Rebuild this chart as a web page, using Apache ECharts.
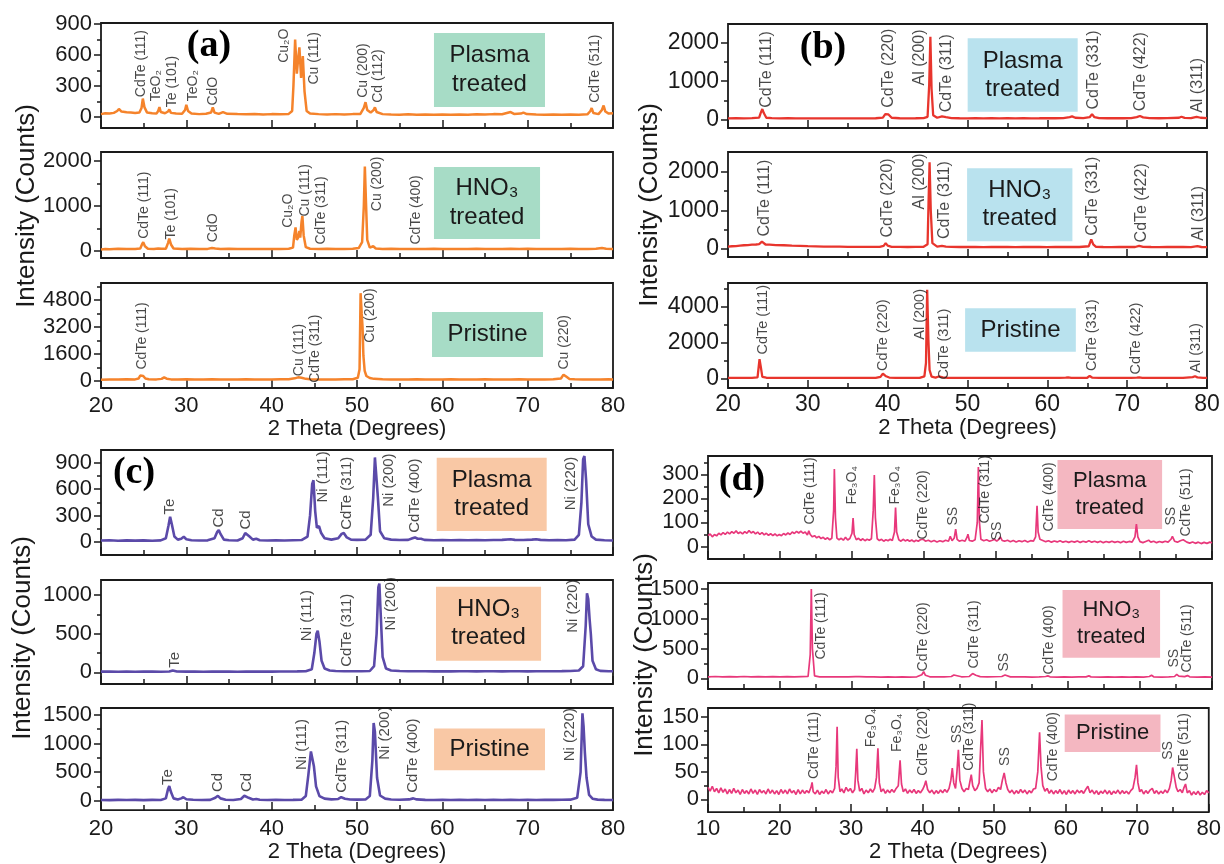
<!DOCTYPE html>
<html><head><meta charset="utf-8">
<script src="https://cdn.jsdelivr.net/npm/echarts@6/dist/echarts.min.js"></script>
<style>html,body{margin:0;padding:0;background:#fff}#c{width:1224px;height:864px}</style>
</head><body><div id="c"></div>
<script>
// ---------------- DATA (2θ in degrees, intensity in counts) ----------------
const a_plasma = [[20,30],[20.5,38],[21,35],[21.5,42],[21.9,60],[22.1,80],[22.4,55],[23,48],[23.5,45],[24,42],[24.5,45],[24.75,90],[24.9,180],[25.1,95],[25.4,45],[26,38],[26.5,35],[26.7,60],[26.85,97],[27.0,50],[27.5,38],[27.85,55],[28.0,75],[28.2,42],[28.8,35],[29.5,33],[29.85,70],[30.0,120],[30.2,60],[30.6,35],[31.5,30],[32.3,34],[32.9,45],[33.1,95],[33.3,45],[33.8,32],[34.3,50],[34.8,33],[36,30],[37,28],[38,32],[39,27],[40,30],[41,28],[42,32],[42.4,60],[42.55,300],[42.75,750],[42.95,420],[43.1,560],[43.25,675],[43.45,380],[43.65,590],[43.85,250],[44.1,60],[44.5,35],[45.5,30],[46.5,27],[47.5,30],[48.5,26],[49.5,30],[50.4,32],[50.8,90],[51.0,145],[51.2,70],[51.6,45],[51.95,70],[52.1,95],[52.3,50],[53,30],[54,27],[55,25],[56,28],[57,24],[58,27],[59,23],[60,26],[61,24],[62,27],[63,25],[64,28],[65,26],[66,30],[67,28],[68,50],[68.4,32],[69.2,35],[69.5,45],[69.9,30],[71,27],[72,25],[73,27],[74,24],[75,26],[76,25],[77,28],[77.35,60],[77.5,88],[77.7,40],[78.3,30],[78.7,70],[78.9,113],[79.1,55],[79.5,35],[80,38]];
const a_hno3 = [[20,40],[20.5,50],[21,45],[22,55],[23,48],[24,52],[24.6,60],[24.8,150],[24.95,200],[25.15,110],[25.5,55],[26.2,50],[26.7,60],[26.9,85],[27.1,55],[27.6,55],[27.85,180],[28.0,280],[28.2,150],[28.5,60],[29.5,50],[30.5,55],[31.5,48],[32.5,52],[33.0,70],[33.2,85],[33.4,60],[34,50],[35,55],[36,48],[37,52],[38,50],[39,47],[40,52],[41,50],[42,55],[42.5,80],[42.65,350],[42.8,530],[42.95,250],[43.1,300],[43.25,450],[43.35,300],[43.5,650],[43.6,780],[43.75,350],[44,90],[44.5,55],[45.5,50],[46.5,55],[47.5,48],[48.5,52],[49.5,55],[50.2,70],[50.6,200],[50.8,1000],[50.92,1880],[51.05,1100],[51.2,250],[51.5,80],[51.9,110],[52.2,60],[53,50],[54,55],[55,48],[56,52],[57,50],[58,47],[59,53],[60,50],[61,48],[62,52],[63,50],[64,55],[65,48],[66,52],[67,50],[68,53],[69,48],[70,55],[71,50],[72,47],[73,52],[74,50],[75,55],[76,50],[77,48],[78,55],[78.7,70],[78.9,85],[79.2,55],[80,50]];
const a_pristine = [[20,80],[21,100],[22,90],[23,110],[24,100],[24.4,150],[24.6,330],[24.75,420],[24.95,300],[25.2,150],[25.6,110],[26.5,100],[27.1,130],[27.4,220],[27.7,140],[28.2,100],[29,95],[30,110],[31,100],[32,95],[33,105],[34,100],[35,95],[36,100],[37,105],[38,100],[39,95],[40,100],[41,105],[42,110],[42.7,160],[43.1,220],[43.5,200],[44,130],[44.5,110],[45.5,100],[46.5,95],[47.5,100],[48.5,105],[49.5,110],[50.1,200],[50.3,700],[50.42,5200],[50.55,4000],[50.65,3200],[50.75,1500],[50.9,600],[51.1,300],[51.5,180],[52,130],[53,110],[54,100],[55,95],[56,100],[57,105],[58,100],[59,95],[60,100],[61,105],[62,100],[63,95],[64,100],[65,105],[66,100],[67,95],[68,100],[69,105],[70,100],[71,95],[72,100],[73,105],[73.9,150],[74.2,380],[74.35,420],[74.55,250],[74.9,120],[75.5,105],[76.5,100],[77.5,95],[78.5,100],[79.5,105],[80,100]];

const b_plasma = [[20,40],[21,45],[22,40],[23,45],[23.9,60],[24.1,180],[24.3,280],[24.5,170],[24.8,55],[25.5,45],[26.5,40],[27.5,42],[28.5,38],[29.5,40],[30.5,38],[31.5,40],[32.5,37],[33.5,40],[34.5,38],[35.5,40],[36.5,37],[37.5,40],[38.5,42],[39.4,60],[39.7,150],[39.9,180],[40.1,140],[40.5,55],[41.5,42],[42.5,40],[43.5,42],[44.5,45],[45.0,80],[45.2,900],[45.35,2150],[45.5,800],[45.7,120],[46.2,55],[46.8,90],[47.0,130],[47.3,70],[48,45],[49,42],[50,40],[51,42],[52,40],[53,42],[54,40],[55,42],[56,40],[57,43],[58,40],[59,42],[60,45],[61,42],[62,45],[62.8,70],[63.1,90],[63.5,55],[64.5,45],[65.3,70],[65.6,150],[65.9,70],[66.5,45],[67.5,42],[68.5,44],[69.5,42],[70.5,44],[71.2,70],[71.6,100],[72.0,65],[72.8,45],[74,42],[75,45],[76.5,55],[76.8,80],[77.2,50],[78,45],[78.7,80],[78.9,110],[79.2,55],[80,45]];
const b_hno3 = [[20,60],[20.5,70],[21,75],[21.5,85],[22,95],[22.5,100],[23,110],[23.5,115],[23.9,125],[24.1,160],[24.25,190],[24.4,150],[24.7,115],[25.2,110],[26,100],[27,95],[28,85],[29,80],[30,72],[31,68],[32,62],[33,60],[34,58],[35,55],[36,55],[37,53],[38,52],[39,55],[39.5,80],[39.75,150],[40.0,85],[40.5,55],[41.5,52],[42.5,50],[43.5,52],[44.5,55],[45.0,120],[45.12,1200],[45.25,2250],[45.4,1000],[45.6,150],[46.2,60],[46.8,80],[47.0,100],[47.3,60],[48,52],[49,50],[50,52],[51,50],[52,48],[53,50],[54,52],[55,50],[56,48],[57,50],[58,52],[59,50],[60,48],[61,50],[62,52],[63,50],[64,50],[65.2,70],[65.5,250],[65.75,120],[66.1,55],[67,50],[68,48],[69,50],[70,52],[71,50],[71.5,80],[72,55],[73,50],[74,48],[75,50],[76,52],[77,50],[78,48],[78.8,70],[79.0,90],[79.3,50],[80,45]];
const b_pristine = [[20,60],[21,65],[22,60],[23,65],[23.7,90],[23.85,700],[23.95,1100],[24.1,700],[24.3,120],[24.8,70],[25.5,65],[26.5,60],[27.5,62],[28.5,60],[29.5,62],[30.5,60],[31.5,58],[32.5,60],[33.5,62],[34.5,60],[35.5,58],[36.5,60],[37.5,62],[38.5,65],[39.1,120],[39.4,300],[39.55,330],[39.8,150],[40.2,80],[41,65],[42,60],[43,62],[44,65],[44.6,150],[44.8,900],[44.95,4950],[45.1,2200],[45.25,500],[45.5,130],[46,80],[46.4,140],[46.6,180],[46.9,90],[47.5,65],[48.5,60],[49.5,62],[50.5,60],[51.5,58],[52.5,60],[53.5,62],[54.5,60],[55.5,58],[56.5,60],[57.5,62],[58.5,60],[59.5,62],[60.5,60],[61.5,62],[62.3,80],[62.6,90],[63,65],[64,60],[65,70],[65.3,170],[65.6,80],[66.5,60],[67.5,62],[68.5,60],[69.5,62],[70.5,60],[71.2,75],[71.5,85],[71.9,65],[72.8,60],[74,62],[75,60],[76,62],[77,60],[78.2,100],[78.5,150],[78.8,90],[79.5,65],[80,60]];

const c_plasma = [[20,15],[21,18],[22,12],[23,16],[24,14],[25,17],[26,13],[27,16],[27.6,40],[27.9,180],[28.1,285],[28.3,200],[28.6,60],[29.0,25],[29.4,35],[29.7,57],[30.0,30],[30.6,18],[31.5,15],[32.5,17],[33.3,40],[33.6,110],[33.8,133],[34.0,90],[34.4,25],[35,18],[36,15],[36.6,40],[36.9,100],[37.1,107],[37.4,60],[37.8,25],[38.2,35],[38.6,18],[39.5,15],[40.5,17],[41.5,15],[42.5,18],[43.5,20],[44.2,60],[44.5,300],[44.75,660],[44.9,700],[45.1,350],[45.3,160],[45.55,180],[45.8,100],[46.2,40],[47,25],[47.8,40],[48.2,90],[48.45,100],[48.8,50],[49.3,25],[50,22],[51,25],[51.6,80],[51.9,500],[52.1,960],[52.25,970],[52.45,500],[52.7,120],[53.2,40],[54,25],[55,20],[56,22],[56.5,40],[56.8,50],[57.1,35],[57.5,35],[57.9,22],[59,18],[60,20],[61,18],[62,20],[63,18],[64,20],[65,18],[66,20],[67,22],[68,30],[68.5,22],[69.5,20],[70.5,25],[71,30],[71.5,22],[72.5,18],[73.5,20],[74.5,18],[75.5,25],[76.0,80],[76.3,450],[76.5,940],[76.65,977],[76.85,700],[77.1,200],[77.5,60],[78,25],[79,18],[80,15]];
const c_hno3 = [[20,10],[21,12],[22,8],[23,11],[24,9],[25,12],[26,10],[27,8],[28,12],[28.4,25],[28.6,30],[28.9,12],[30,10],[31,12],[32,9],[33,11],[34,10],[35,12],[36,9],[37,11],[38,10],[39,12],[40,10],[41,11],[42,12],[43,13],[44,15],[44.7,40],[45.0,250],[45.25,500],[45.4,538],[45.6,400],[45.85,150],[46.2,50],[46.8,25],[47.5,18],[48.5,15],[49.5,14],[50.5,15],[51.5,18],[52.0,80],[52.3,500],[52.5,1100],[52.62,1150],[52.8,700],[53.0,200],[53.4,50],[54,25],[55,18],[56,15],[57,14],[58,15],[59,13],[60,14],[61,13],[62,15],[63,14],[64,13],[65,15],[66,14],[67,13],[68,15],[69,14],[70,13],[71,15],[72,14],[73,15],[74,16],[75,18],[76,25],[76.5,80],[76.8,600],[76.95,1022],[77.1,950],[77.25,700],[77.4,500],[77.6,150],[78,40],[78.5,20],[79.5,15],[80,14]];
const c_pristine = [[20,12],[21,10],[22,14],[23,11],[24,13],[25,10],[26,14],[27,12],[27.6,40],[27.85,200],[28.0,255],[28.2,150],[28.5,40],[29.0,20],[29.4,40],[29.65,60],[30.0,25],[30.8,15],[31.8,12],[32.8,14],[33.4,50],[33.7,85],[34.0,40],[34.6,15],[35.5,12],[36.4,30],[36.8,85],[37.0,95],[37.3,50],[37.8,20],[38.2,30],[38.6,15],[39.5,12],[40.5,14],[41.5,12],[42.5,14],[43.5,18],[44.0,80],[44.3,450],[44.6,860],[44.75,870],[44.95,600],[45.2,250],[45.6,80],[46.2,35],[47,22],[47.8,30],[48.15,60],[48.3,68],[48.6,35],[49.2,20],[50,18],[51,22],[51.5,80],[51.8,700],[51.95,1358],[52.1,1200],[52.35,400],[52.7,90],[53.3,35],[54,20],[55,15],[56.1,22],[56.6,40],[57.0,22],[58,14],[59,12],[60,13],[61,12],[62,14],[63,12],[64,13],[65,12],[66,14],[67,12],[68,13],[69,12],[70,14],[71,12],[72,13],[73,14],[74,15],[75,18],[75.8,50],[76.2,500],[76.42,1528],[76.55,1300],[76.7,850],[76.9,400],[77.2,100],[77.6,35],[78.2,18],[79,14],[80,12]];

const d_plasma = [[10,45],[10.3,52],[10.6,40],[10.9,50],[11.2,44],[11.5,55],[11.8,48],[12.1,58],[12.4,50],[12.7,60],[13,52],[13.3,62],[13.6,55],[13.9,65],[14.2,54],[14.5,60],[14.8,52],[15.1,62],[15.4,55],[15.7,66],[16,56],[16.3,62],[16.6,52],[16.9,60],[17.2,50],[17.5,58],[17.8,48],[18.1,55],[18.4,46],[18.7,53],[19,45],[19.3,52],[19.6,44],[19.9,50],[20.2,45],[20.5,54],[20.8,48],[21.1,56],[21.4,50],[21.7,60],[22,54],[22.3,63],[22.6,56],[22.9,64],[23.2,55],[23.5,60],[23.8,48],[24.0,65],[24.2,50],[24.5,40],[24.8,45],[25.1,36],[25.4,42],[25.7,33],[26,38],[26.3,30],[26.6,36],[26.9,28],[27.2,34],[27.45,150],[27.55,322],[27.7,120],[27.9,35],[28.2,28],[28.5,34],[28.8,26],[29.1,38],[29.4,27],[29.7,33],[30.0,55],[30.15,118],[30.3,50],[30.6,28],[30.9,34],[31.2,25],[31.5,32],[31.8,24],[32.1,30],[32.4,26],[32.7,32],[32.95,150],[33.1,297],[33.25,120],[33.5,32],[33.8,25],[34.1,30],[34.4,22],[34.7,28],[35,24],[35.3,30],[35.6,25],[35.9,60],[36.05,162],[36.2,60],[36.5,28],[36.8,22],[37.1,30],[37.4,23],[37.7,28],[38,22],[38.3,27],[38.6,20],[38.9,26],[39.2,22],[39.5,28],[39.7,35],[39.9,30],[40.2,22],[40.6,26],[41,20],[41.4,25],[41.8,19],[42.2,24],[42.6,20],[43,26],[43.4,22],[43.65,42],[43.9,24],[44.2,35],[44.4,72],[44.6,30],[44.9,22],[45.3,26],[45.7,22],[46.0,40],[46.1,51],[46.3,25],[46.7,22],[47.1,28],[47.4,100],[47.55,330],[47.7,100],[47.9,30],[48.3,24],[48.7,28],[49.1,22],[49.5,26],[49.8,30],[50.1,22],[50.4,30],[50.6,40],[50.85,25],[51.2,22],[51.6,26],[52,20],[52.4,25],[52.8,19],[53.2,24],[53.6,20],[54,25],[54.4,19],[54.8,24],[55.2,22],[55.5,40],[55.7,169],[55.85,60],[56.1,30],[56.5,25],[56.9,20],[57.3,24],[57.7,18],[58.1,23],[58.5,19],[58.9,24],[59.3,18],[59.7,22],[60.1,17],[60.5,22],[60.9,18],[61.3,23],[61.7,17],[62.1,22],[62.5,18],[62.9,24],[63.3,18],[63.7,22],[64.1,17],[64.5,22],[64.9,16],[65.3,21],[65.7,17],[66.1,22],[66.5,17],[66.9,21],[67.3,16],[67.7,22],[68.1,17],[68.5,21],[68.9,18],[69.3,40],[69.5,93],[69.7,40],[70,20],[70.4,16],[70.8,21],[71.2,26],[71.5,18],[71.9,22],[72.3,16],[72.7,21],[73.1,17],[73.5,22],[73.9,18],[74.3,30],[74.5,42],[74.8,22],[75.2,18],[75.6,24],[76.0,28],[76.2,35],[76.5,18],[76.9,14],[77.3,19],[77.7,13],[78.1,18],[78.5,12],[78.9,17],[79.3,13],[79.7,18],[80,15]];
const d_hno3 = [[10,25],[11,30],[12,22],[13,28],[14,24],[15,30],[16,22],[17,27],[18,24],[19,29],[20,22],[21,27],[22,24],[23,28],[23.9,30],[24.2,400],[24.35,1500],[24.5,500],[24.8,40],[25.5,25],[26.5,22],[27.5,26],[28.5,22],[29.5,25],[30.5,28],[30.75,60],[31.0,28],[32,22],[33,25],[34,21],[35,24],[36,20],[37,24],[38,21],[39,25],[39.7,60],[39.95,110],[40.2,50],[40.8,25],[41.8,22],[42.8,25],[43.8,30],[44.15,55],[44.4,28],[45.2,25],[46.3,30],[46.75,80],[46.95,110],[47.2,50],[47.8,28],[48.8,24],[49.8,26],[50.8,30],[51.25,55],[51.5,40],[52,24],[53,22],[54,24],[55,20],[56,23],[56.9,30],[57.2,40],[57.5,25],[58.5,20],[59.5,23],[60.5,20],[61.5,22],[62.5,24],[62.9,40],[63.2,24],[64.5,20],[65.5,22],[66.5,19],[67.5,22],[68.5,20],[69.5,22],[70.5,21],[71.3,30],[71.6,50],[71.9,25],[73,20],[74,22],[74.8,30],[75.1,65],[75.4,35],[76.2,28],[76.6,45],[76.9,25],[78,20],[79,22],[80,20]];
const d_pristine = [[10,22],[10.3,15],[10.6,24],[10.9,14],[11.2,20],[11.5,12],[11.8,21],[12.1,13],[12.4,19],[12.7,10],[13,18],[13.3,11],[13.6,20],[13.9,12],[14.2,17],[14.5,9],[14.8,18],[15.1,11],[15.4,16],[15.7,10],[16,19],[16.3,11],[16.6,17],[16.9,9],[17.2,18],[17.5,12],[17.8,16],[18.1,10],[18.4,19],[18.7,11],[19,17],[19.3,10],[19.6,16],[19.9,9],[20.2,18],[20.5,11],[20.8,17],[21.1,10],[21.4,19],[21.7,12],[22,16],[22.3,9],[22.6,18],[22.9,10],[23.2,17],[23.5,11],[23.8,16],[24.1,12],[24.4,22],[24.55,31],[24.7,14],[25,10],[25.3,17],[25.6,9],[25.9,15],[26.2,11],[26.5,18],[26.8,10],[27.1,16],[27.4,12],[27.7,20],[27.9,60],[28.05,132],[28.2,40],[28.45,14],[28.7,19],[29,12],[29.3,22],[29.6,15],[29.9,20],[30.2,12],[30.5,18],[30.65,50],[30.8,92],[30.95,35],[31.2,15],[31.5,20],[31.8,10],[32.1,17],[32.4,12],[32.7,19],[33,13],[33.3,20],[33.55,40],[33.75,93],[33.95,30],[34.2,14],[34.5,19],[34.8,11],[35.1,17],[35.4,12],[35.7,18],[36,13],[36.3,20],[36.6,25],[36.85,71],[37.05,28],[37.3,14],[37.6,19],[37.9,11],[38.2,17],[38.5,12],[38.8,18],[39.1,11],[39.4,16],[39.7,12],[40.0,18],[40.25,25],[40.45,34],[40.7,18],[41,12],[41.3,17],[41.6,10],[41.9,16],[42.2,11],[42.5,17],[42.8,12],[43.1,18],[43.4,13],[43.7,20],[43.95,35],[44.15,57],[44.35,30],[44.6,20],[44.8,50],[45.0,90],[45.2,35],[45.5,20],[45.8,14],[46.1,20],[46.4,18],[46.65,35],[46.8,45],[47.0,25],[47.3,16],[47.6,20],[47.9,30],[48.1,90],[48.3,144],[48.5,50],[48.8,20],[49.1,14],[49.4,19],[49.7,12],[50,18],[50.3,14],[50.6,22],[50.9,18],[51.15,35],[51.4,48],[51.65,30],[51.9,18],[52.2,12],[52.5,17],[52.8,10],[53.1,16],[53.4,11],[53.7,18],[54,12],[54.3,17],[54.6,10],[54.9,16],[55.2,12],[55.5,19],[55.8,20],[56.1,50],[56.35,122],[56.55,60],[56.8,25],[57.1,15],[57.4,20],[57.7,11],[58,17],[58.3,10],[58.6,16],[58.9,11],[59.2,18],[59.5,10],[59.8,16],[60.1,9],[60.4,17],[60.7,11],[61,16],[61.3,10],[61.6,17],[61.9,12],[62.2,16],[62.5,11],[62.8,18],[63.1,24],[63.4,12],[63.7,17],[64,10],[64.3,16],[64.6,9],[64.9,15],[65.2,11],[65.5,17],[65.8,10],[66.1,16],[66.4,9],[66.7,15],[67,11],[67.3,17],[67.6,10],[67.9,16],[68.2,11],[68.5,15],[68.8,10],[69.1,16],[69.4,20],[69.7,40],[69.9,63],[70.1,30],[70.35,14],[70.6,18],[70.9,10],[71.2,16],[71.5,11],[71.8,17],[72.1,20],[72.4,11],[72.7,16],[73,10],[73.3,15],[73.6,11],[73.9,17],[74.2,12],[74.5,20],[74.75,35],[74.95,58],[75.2,40],[75.45,22],[75.7,14],[76,18],[76.3,12],[76.55,22],[76.75,28],[77,12],[77.3,16],[77.6,8],[77.9,14],[78.2,9],[78.5,15],[78.8,8],[79.1,13],[79.4,9],[79.7,16],[80,12]];

// peak labels: [2θ, intensity at bottom of text, text]
const a_plasma_labels = [[24.65,189,'CdTe (111)'],[26.5,150,'TeO₂'],[28.28,92,'Te (101)'],[30.74,150,'TeO₂'],[33.16,108,'CdO'],[41.45,521,'Cu₂O'],[44.96,311,'Cu (111)'],[50.74,183,'Cu (200)'],[52.5,135,'Cd (112)'],[77.9,135,'CdTe (511)']];
const a_hno3_labels = [[25.1,265,'CdTe (111)'],[28.17,249,'Te (101)'],[33.1,190,'CdO'],[41.96,508,'Cu₂O'],[43.93,759,'Cu (111)'],[45.8,138,'CdTe (311)'],[52.4,877,'Cu (200)'],[56.88,138,'CdTe (400)']];
const a_pristine_labels = [[24.87,655,'CdTe (111)'],[43.23,259,'Cu (111)'],[45.1,-132,'CdTe (311)'],[51.56,2234,'Cu (200)'],[74.3,655,'Cu (220)']];
const b_plasma_labels = [[24.85,299,'CdTe (111)'],[40.17,299,'CdTe (220)'],[43.97,876,'Al (200)'],[47.4,185,'CdTe (311)'],[65.85,255,'CdTe (331)'],[71.7,211,'CdTe (422)'],[78.84,170,'Al (311)']];
const b_hno3_labels = [[24.57,310,'CdTe (111)'],[40.0,284,'CdTe (220)'],[44.03,1015,'Al (200)'],[47.1,242,'CdTe (311)'],[65.7,328,'CdTe (331)'],[71.8,156,'CdTe (422)'],[78.9,198,'Al (311)']];
const b_pristine_labels = [[24.34,1327,'CdTe (111)'],[39.4,411,'CdTe (220)'],[44.03,2149,'Al (200)'],[47.0,-50,'CdTe (311)'],[65.6,411,'CdTe (331)'],[71.16,228,'CdTe (422)'],[78.66,317,'Al (311)']];
const c_plasma_labels = [[28.09,305,'Te'],[33.83,157,'Cd'],[36.99,135,'Cd'],[46.02,442,'Ni (111)'],[48.8,131,'CdTe (311)'],[53.79,393,'Ni (200)'],[56.8,97,'CdTe (400)'],[75.08,354,'Ni (220)']];
const c_hno3_labels = [[28.67,53,'Te'],[44.18,397,'Ni (111)'],[48.87,66,'CdTe (311)'],[53.99,536,'Ni (200)'],[75.35,506,'Ni (220)']];
const c_pristine_labels = [[27.89,265,'Te'],[33.75,141,'Cd'],[37.07,141,'Cd'],[43.52,527,'Ni (111)'],[48.28,129,'CdTe (311)'],[53.28,707,'Ni (200)'],[56.6,129,'CdTe (400)'],[74.96,680,'Ni (220)']];
const d_plasma_labels = [[24.15,89,'CdTe (111)'],[30.07,172,'Fe₃O₄'],[35.94,172,'Fe₃O₄'],[39.82,27,'CdTe (220)'],[43.98,85,'SS'],[48.56,93,'CdTe (311)'],[50.18,23,'SS'],[57.43,60,'CdTe (400)'],[74.36,85,'SS'],[76.39,39,'CdTe (511)']];
const d_hno3_labels = [[25.77,307,'CdTe (111)'],[39.82,106,'CdTe (220)'],[47.03,156,'CdTe (311)'],[51.19,106,'SS'],[57.43,55,'CdTe (400)'],[74.77,173,'SS'],[76.57,89,'CdTe (511)']];
const d_pristine_labels = [[24.77,36,'CdTe (111)'],[32.75,94,'Fe₃O₄'],[36.49,85,'Fe₃O₄'],[40.1,42,'CdTe (220)'],[44.81,101,'SS'],[46.48,51,'CdTe (311)'],[51.47,60,'SS'],[58.27,32,'CdTe (400)'],[74.36,71,'SS'],[76.52,32,'CdTe (511)']];

// y tick values
const ticks_a1 = [0,300,600,900], minor_a1 = [150,450,750];
const ticks_a2 = [0,1000,2000], minor_a2 = [500,1500];
const ticks_a3 = [0,1600,3200,4800], minor_a3 = [800,2400,4000,5600];
const ticks_b12 = [0,1000,2000], minor_b12 = [500,1500];
const ticks_b3 = [0,2000,4000], minor_b3 = [1000,3000,5000];
const ticks_c1 = [0,300,600,900], minor_c1 = [150,450,750];
const ticks_c2 = [0,500,1000], minor_c2 = [250,750];
const ticks_c3 = [0,500,1000,1500], minor_c3 = [250,750,1250];
const ticks_d1 = [0,100,200,300], minor_d1 = [50,150,250,350];
const ticks_d2 = [0,500,1000,1500], minor_d2 = [250,750,1250];
const ticks_d3 = [0,50,100,150], minor_d3 = [25,75,125];

const xTitle = '2 Theta (Degrees)';
const yTitle = 'Intensity (Counts)';
const plasmaText = 'Plasma\ntreated', hno3Text = 'HNO₃\ntreated', pristineText = 'Pristine';

// ---------------- LAYOUT / STYLE ----------------
const FONT = '"Liberation Sans", Arial, Helvetica, sans-serif';
const INK = '#1a1a1a';
const panels = {
  a: {left:101, width:512, xmin:20, xmax:80, color:'#f5832b', box:'#a7dcc6', lw:2.5, lab:14, tick:22, boxFont:24, boxLH:29, nameGap:24, margin:7},
  b: {left:728, width:479, xmin:20, xmax:80, color:'#e8352d', box:'#b9e2ee', lw:2.3, lab:16, tick:23, boxFont:24, boxLH:28, nameGap:24, margin:5},
  c: {left:101, width:512, xmin:20, xmax:80, color:'#5b4aa9', box:'#f9c8a5', lw:2.6, lab:15, tick:22, boxFont:24, boxLH:28, nameGap:26, margin:8},
  d: {left:708, width:504, xmin:10, xmax:80, color:'#e8387b', box:'#f4b7c1', lw:1.7, lab:14, tick:22, boxFont:22, boxLH:27, nameGap:24, margin:6}
};
const subplots = [
  {p:'a', top:23, height:105, ymin:-104, ymax:910, major:ticks_a1, minor:minor_a1, data:a_plasma, labels:a_plasma_labels, box:[59.02,813,72.03,99], text:plasmaText},
  {p:'a', top:152, height:106, ymin:-150, ymax:2200, major:ticks_a2, minor:minor_a2, data:a_hno3, labels:a_hno3_labels, box:[59.02,1867,71.45,271], text:hno3Text},
  {p:'a', top:283, height:105, ymin:-410, ymax:5800, major:ticks_a3, minor:minor_a3, data:a_pristine, labels:a_pristine_labels, box:[58.79,4085,71.8,1424], text:pristineText, bottom:true},
  {p:'b', top:24, height:104, ymin:-210, ymax:2480, major:ticks_b12, minor:minor_b12, data:b_plasma, labels:b_plasma_labels, box:[50.02,2110,63.8,211], text:plasmaText},
  {p:'b', top:152, height:105, ymin:-210, ymax:2520, major:ticks_b12, minor:minor_b12, data:b_hno3, labels:b_hno3_labels, box:[49.95,2096,63.14,198], text:hno3Text},
  {p:'b', top:283, height:105, ymin:-500, ymax:5330, major:ticks_b3, minor:minor_b3, data:b_pristine, labels:b_pristine_labels, box:[49.7,3925,63.57,1510], text:pristineText, bottom:true, lab:14.5},
  {p:'c', top:450, height:105, ymin:-150, ymax:1045, major:ticks_c1, minor:minor_c1, data:c_plasma, labels:c_plasma_labels, box:[59.34,957,72.23,123], text:plasmaText},
  {p:'c', top:580, height:104, ymin:-150, ymax:1195, major:ticks_c2, minor:minor_c2, data:c_hno3, labels:c_hno3_labels, box:[59.26,1108,71.57,152], text:hno3Text},
  {p:'c', top:708, height:105, ymin:-165, ymax:1620, major:ticks_c3, minor:minor_c3, data:c_pristine, labels:c_pristine_labels, box:[59.03,1263,72.03,532], text:pristineText, bottom:true},
  {p:'d', top:456, height:103, ymin:-52, ymax:376, major:ticks_d1, minor:minor_d1, data:d_plasma, labels:d_plasma_labels, box:[58.54,359,73.07,73], text:plasmaText},
  {p:'d', top:583, height:106, ymin:-180, ymax:1600, major:ticks_d2, minor:minor_d2, data:d_hno3, labels:d_hno3_labels, box:[59.24,1482,72.79,346], text:hno3Text},
  {p:'d', top:708, height:107, ymin:-23, ymax:166, major:ticks_d3, minor:minor_d3, data:d_pristine, labels:d_pristine_labels, box:[59.86,154,73.25,86], text:pristineText, bottom:true}
];

const grid = [], xAxis = [], yAxis = [], series = [];
const tickLine = {color: INK, width: 1.5};
const plain = v => String(Math.round(v));
subplots.forEach((s, i) => {
  const P = panels[s.p];
  grid.push({left:P.left, top:s.top, width:P.width, height:s.height, show:true, borderColor:INK, borderWidth:1.8, backgroundColor:'rgba(0,0,0,0)'});
  xAxis.push({
    gridIndex:i, type:'value', min:P.xmin, max:P.xmax, interval:10,
    axisLine:{show:false, onZero:false},
    axisTick:{show:true, inside:true, length:8, lineStyle:tickLine},
    minorTick:{show:true, splitNumber:2, length:5, lineStyle:tickLine},
    splitLine:{show:false}, minorSplitLine:{show:false},
    axisLabel:{show:!!s.bottom, fontSize:P.tick, fontFamily:FONT, color:INK, margin:P.margin, formatter:plain},
    name: s.bottom ? xTitle : '', nameLocation:'middle', nameGap:P.nameGap,
    nameTextStyle:{fontSize:22, fontFamily:FONT, color:INK}
  });
  yAxis.push({
    gridIndex:i, type:'value', position:'left', min:s.ymin, max:s.ymax,
    axisLine:{show:false, onZero:false},
    axisTick:{show:true, inside:false, length:7, customValues:s.major, lineStyle:tickLine},
    axisLabel:{show:true, customValues:s.major, fontSize:P.tick, fontFamily:FONT, color:INK, margin:9, formatter:plain},
    splitLine:{show:false}
  });
  yAxis.push({
    gridIndex:i, type:'value', position:'left', min:s.ymin, max:s.ymax,
    axisLine:{show:false, onZero:false},
    axisTick:{show:true, inside:false, length:4, customValues:s.minor, lineStyle:tickLine},
    axisLabel:{show:false}, splitLine:{show:false}
  });
  series.push({
    type:'line', xAxisIndex:i, yAxisIndex:2*i, data:s.data, symbol:'none', z:3,
    lineStyle:{color:P.color, width:P.lw}, silent:true,
    markArea:{silent:true, itemStyle:{color:P.box},
      label:{show:true, position:'inside', formatter:s.text, fontSize:P.boxFont, lineHeight:P.boxLH, fontFamily:FONT, color:INK},
      data:[[{coord:[s.box[0], s.box[1]]}, {coord:[s.box[2], s.box[3]]}]]}
  });
  series.push({
    type:'scatter', xAxisIndex:i, yAxisIndex:2*i, symbolSize:1, silent:true, z:5,
    itemStyle:{color:'rgba(0,0,0,0)'},
    data:s.labels.map(l => ({value:[l[0], l[1]], name:l[2]})),
    label:{show:true, formatter:'{b}', position:'top', distance:0, rotate:90, align:'left', verticalAlign:'middle',
      fontSize:s.lab || P.lab, fontFamily:FONT, color:INK}
  });
});

function vText(x, y, t) {
  return {type:'text', x, y, rotation:Math.PI/2, z:10,
    style:{text:t, font:'26px ' + FONT, fill:INK, align:'center', verticalAlign:'middle', textAlign:'center', textVerticalAlign:'middle'}};
}
function pLabel(x, y, t) {
  return {type:'text', x, y, z:10,
    style:{text:t, font:'bold 38px "Liberation Serif", "Times New Roman", serif', fill:'#000', align:'center', verticalAlign:'middle', textAlign:'center', textVerticalAlign:'middle'}};
}

const chart = echarts.init(document.getElementById('c'), null, {renderer:'canvas'});
chart.setOption({
  animation:false,
  backgroundColor:'#fff',
  grid, xAxis, yAxis, series,
  graphic:[
    vText(27, 206, yTitle), vText(650, 205, yTitle), vText(23, 638, yTitle), vText(645, 655, yTitle),
    pLabel(209, 46, '(a)'), pLabel(823, 48, '(b)'), pLabel(134, 473, '(c)'), pLabel(742, 480, '(d)')
  ]
});
</script></body></html>
